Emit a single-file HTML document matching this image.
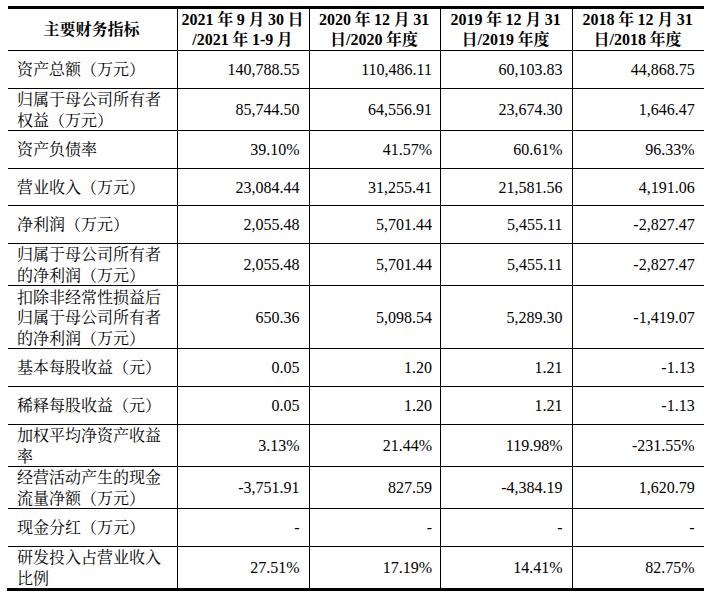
<!DOCTYPE html>
<html lang="zh-CN">
<head>
<meta charset="utf-8">
<title>主要财务指标</title>
<style>
html,body{margin:0;padding:0;background:#fff;}
body{width:707px;height:598px;position:relative;overflow:hidden;font-family:"Liberation Serif","Noto Serif CJK SC",serif;font-size:16px;color:#000;}
.ln{position:absolute;background:#000;}
.n{position:absolute;width:120px;height:20px;line-height:20px;text-align:right;white-space:nowrap;}
.h{position:absolute;height:20px;line-height:20px;text-align:center;white-space:pre;font-weight:bold;word-spacing:-0.4px;font-family:"Liberation Serif","Noto Serif CJK SC",serif;}
svg.cj{position:absolute;display:block;overflow:visible;fill:#000;}
svg.cj text{font-family:"Liberation Serif","Noto Serif CJK SC",serif;font-size:16px;fill:#000;stroke:none;}
</style>
</head>
<body>
<div class="ln" style="left:8px;top:6px;width:696px;height:3px"></div>
<div class="ln" style="left:8px;top:50px;width:696px;height:1px"></div>
<div class="ln" style="left:8px;top:88px;width:696px;height:1px"></div>
<div class="ln" style="left:8px;top:130px;width:696px;height:1px"></div>
<div class="ln" style="left:8px;top:168px;width:696px;height:1px"></div>
<div class="ln" style="left:8px;top:205px;width:696px;height:1px"></div>
<div class="ln" style="left:8px;top:243px;width:696px;height:1px"></div>
<div class="ln" style="left:8px;top:285px;width:696px;height:1px"></div>
<div class="ln" style="left:8px;top:348px;width:696px;height:1px"></div>
<div class="ln" style="left:8px;top:386px;width:696px;height:1px"></div>
<div class="ln" style="left:8px;top:424px;width:696px;height:1px"></div>
<div class="ln" style="left:8px;top:466px;width:696px;height:1px"></div>
<div class="ln" style="left:8px;top:508px;width:696px;height:1px"></div>
<div class="ln" style="left:8px;top:546px;width:696px;height:1px"></div>
<div class="ln" style="left:7px;top:588px;width:697px;height:3px"></div>
<div class="ln" style="left:177px;top:9px;width:1px;height:579px"></div>
<div class="ln" style="left:309px;top:9px;width:1px;height:579px"></div>
<div class="ln" style="left:440px;top:9px;width:1px;height:579px"></div>
<div class="ln" style="left:572px;top:9px;width:1px;height:579px"></div>
<div class="h" style="left:7.1px;width:169px;top:19.5px">主要财务指标</div>
<div class="h" style="left:177.1px;width:131px;top:9.5px">2021 年 9 月 30 日</div>
<div class="h" style="left:177.1px;width:131px;top:29.5px">/2021 年 1-9 月</div>
<div class="h" style="left:309.1px;width:130px;top:9.5px">2020 年 12 月 31</div>
<div class="h" style="left:309.1px;width:130px;top:29.5px">日/2020 年度</div>
<div class="h" style="left:440.1px;width:131px;top:9.5px">2019 年 12 月 31</div>
<div class="h" style="left:440.1px;width:131px;top:29.5px">日/2019 年度</div>
<div class="h" style="left:572.1px;width:131px;top:9.5px">2018 年 12 月 31</div>
<div class="h" style="left:572.1px;width:131px;top:29.5px">日/2018 年度</div>
<svg class="cj" style="left:17.3px;top:61px" width="128" height="16" viewBox="0 0 128 16"><text x="0" y="13.7">资产总额（万元）</text></svg>
<div class="n" style="left:179.5px;top:60px">140,788.55</div>
<div class="n" style="left:312px;top:60px">110,486.11</div>
<div class="n" style="left:442.5px;top:60px">60,103.83</div>
<div class="n" style="left:574.7px;top:60px">44,868.75</div>
<svg class="cj" style="left:17.3px;top:91.4px" width="144" height="16" viewBox="0 0 144 16"><text x="0" y="13.7">归属于母公司所有者</text></svg>
<svg class="cj" style="left:17.3px;top:112.2px" width="96" height="16" viewBox="0 0 96 16"><text x="0" y="13.7">权益（万元）</text></svg>
<div class="n" style="left:179.5px;top:100px">85,744.50</div>
<div class="n" style="left:312px;top:100px">64,556.91</div>
<div class="n" style="left:442.5px;top:100px">23,674.30</div>
<div class="n" style="left:574.7px;top:100px">1,646.47</div>
<svg class="cj" style="left:17.3px;top:141px" width="80" height="16" viewBox="0 0 80 16"><text x="0" y="13.7">资产负债率</text></svg>
<div class="n" style="left:179.5px;top:140px">39.10%</div>
<div class="n" style="left:312px;top:140px">41.57%</div>
<div class="n" style="left:442.5px;top:140px">60.61%</div>
<div class="n" style="left:574.7px;top:140px">96.33%</div>
<svg class="cj" style="left:17.3px;top:179px" width="128" height="16" viewBox="0 0 128 16"><text x="0" y="13.7">营业收入（万元）</text></svg>
<div class="n" style="left:179.5px;top:178px">23,084.44</div>
<div class="n" style="left:312px;top:178px">31,255.41</div>
<div class="n" style="left:442.5px;top:178px">21,581.56</div>
<div class="n" style="left:574.7px;top:178px">4,191.06</div>
<svg class="cj" style="left:17.3px;top:216px" width="112" height="16" viewBox="0 0 112 16"><text x="0" y="13.7">净利润（万元）</text></svg>
<div class="n" style="left:179.5px;top:215px">2,055.48</div>
<div class="n" style="left:312px;top:215px">5,701.44</div>
<div class="n" style="left:442.5px;top:215px">5,455.11</div>
<div class="n" style="left:574.7px;top:215px">-2,827.47</div>
<svg class="cj" style="left:17.3px;top:246.4px" width="144" height="16" viewBox="0 0 144 16"><text x="0" y="13.7">归属于母公司所有者</text></svg>
<svg class="cj" style="left:17.3px;top:267.2px" width="128" height="16" viewBox="0 0 128 16"><text x="0" y="13.7">的净利润（万元）</text></svg>
<div class="n" style="left:179.5px;top:255px">2,055.48</div>
<div class="n" style="left:312px;top:255px">5,701.44</div>
<div class="n" style="left:442.5px;top:255px">5,455.11</div>
<div class="n" style="left:574.7px;top:255px">-2,827.47</div>
<svg class="cj" style="left:17.3px;top:288.5px" width="144" height="16" viewBox="0 0 144 16"><text x="0" y="13.7">扣除非经常性损益后</text></svg>
<svg class="cj" style="left:17.3px;top:309.3px" width="144" height="16" viewBox="0 0 144 16"><text x="0" y="13.7">归属于母公司所有者</text></svg>
<svg class="cj" style="left:17.3px;top:330.1px" width="128" height="16" viewBox="0 0 128 16"><text x="0" y="13.7">的净利润（万元）</text></svg>
<div class="n" style="left:179.5px;top:308px">650.36</div>
<div class="n" style="left:312px;top:308px">5,098.54</div>
<div class="n" style="left:442.5px;top:308px">5,289.30</div>
<div class="n" style="left:574.7px;top:308px">-1,419.07</div>
<svg class="cj" style="left:17.3px;top:359px" width="144" height="16" viewBox="0 0 144 16"><text x="0" y="13.7">基本每股收益（元）</text></svg>
<div class="n" style="left:179.5px;top:358px">0.05</div>
<div class="n" style="left:312px;top:358px">1.20</div>
<div class="n" style="left:442.5px;top:358px">1.21</div>
<div class="n" style="left:574.7px;top:358px">-1.13</div>
<svg class="cj" style="left:17.3px;top:397px" width="144" height="16" viewBox="0 0 144 16"><text x="0" y="13.7">稀释每股收益（元）</text></svg>
<div class="n" style="left:179.5px;top:396px">0.05</div>
<div class="n" style="left:312px;top:396px">1.20</div>
<div class="n" style="left:442.5px;top:396px">1.21</div>
<div class="n" style="left:574.7px;top:396px">-1.13</div>
<svg class="cj" style="left:17.3px;top:427.4px" width="144" height="16" viewBox="0 0 144 16"><text x="0" y="13.7">加权平均净资产收益</text></svg>
<svg class="cj" style="left:17.3px;top:448.2px" width="16" height="16" viewBox="0 0 16 16"><text x="0" y="13.7">率</text></svg>
<div class="n" style="left:179.5px;top:436px">3.13%</div>
<div class="n" style="left:312px;top:436px">21.44%</div>
<div class="n" style="left:442.5px;top:436px">119.98%</div>
<div class="n" style="left:574.7px;top:436px">-231.55%</div>
<svg class="cj" style="left:17.3px;top:469.4px" width="144" height="16" viewBox="0 0 144 16"><text x="0" y="13.7">经营活动产生的现金</text></svg>
<svg class="cj" style="left:17.3px;top:490.2px" width="128" height="16" viewBox="0 0 128 16"><text x="0" y="13.7">流量净额（万元）</text></svg>
<div class="n" style="left:179.5px;top:478px">-3,751.91</div>
<div class="n" style="left:312px;top:478px">827.59</div>
<div class="n" style="left:442.5px;top:478px">-4,384.19</div>
<div class="n" style="left:574.7px;top:478px">1,620.79</div>
<svg class="cj" style="left:17.3px;top:519px" width="128" height="16" viewBox="0 0 128 16"><text x="0" y="13.7">现金分红（万元）</text></svg>
<div class="n" style="left:179.5px;top:518px">-</div>
<div class="n" style="left:312px;top:518px">-</div>
<div class="n" style="left:442.5px;top:518px">-</div>
<div class="n" style="left:574.7px;top:518px">-</div>
<svg class="cj" style="left:17.3px;top:549.4px" width="144" height="16" viewBox="0 0 144 16"><text x="0" y="13.7">研发投入占营业收入</text></svg>
<svg class="cj" style="left:17.3px;top:570.2px" width="32" height="16" viewBox="0 0 32 16"><text x="0" y="13.7">比例</text></svg>
<div class="n" style="left:179.5px;top:558px">27.51%</div>
<div class="n" style="left:312px;top:558px">17.19%</div>
<div class="n" style="left:442.5px;top:558px">14.41%</div>
<div class="n" style="left:574.7px;top:558px">82.75%</div>
</body>
</html>
